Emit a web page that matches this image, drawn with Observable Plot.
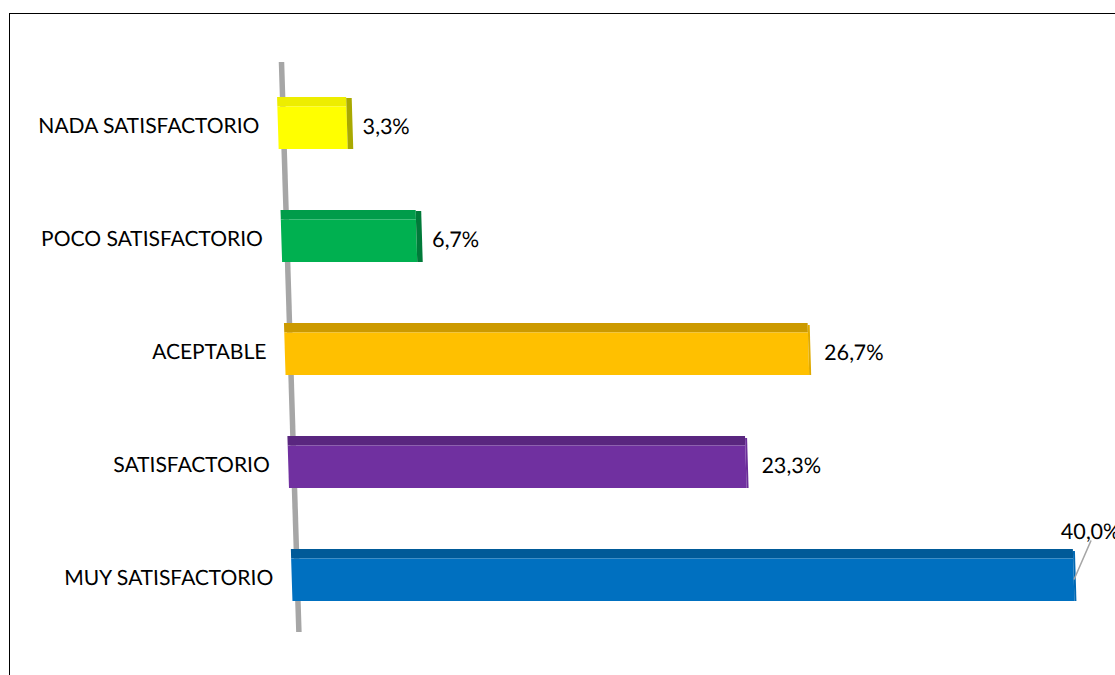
<!DOCTYPE html>
<html>
<head>
<meta charset="utf-8">
<script src="https://cdn.jsdelivr.net/npm/d3@7"></script>
<script src="https://cdn.jsdelivr.net/npm/@observablehq/plot@0.6"></script>
<style>
  html, body { margin: 0; padding: 0; background: #fff; }
  #wrap { position: relative; width: 1115px; height: 675px; overflow: hidden; background: #fff; }
  #frame { position: absolute; left: 9px; top: 13px; width: 1200px; height: 800px; border: 1.5px solid #000; box-sizing: border-box; }
  #chart { position: absolute; left: 0; top: 0; }
</style>
</head>
<body>
<div id="wrap"><div id="frame"></div><div id="chart"></div></div>
<script>
// ---- data ----
const categories = ["NADA SATISFACTORIO", "POCO SATISFACTORIO", "ACEPTABLE", "SATISFACTORIO", "MUY SATISFACTORIO"];
const values = [3.3, 6.7, 26.7, 23.3, 40.0];
// ---- palette (front / top / side faces) ----
const frontColors = ["#FFFF00", "#00B050", "#FFC000", "#7030A0", "#0070C0"];
const topColors   = ["#EDED00", "#009C4A", "#CC9A00", "#59267F", "#005A98"];
const sideColors  = ["#A9A900", "#007A39", "#E0AA00", "#6A2D98", "#0068B3"];

const data = categories.map((cat, i) => ({cat, value: values[i], i}));
const maxV = d3.max(values);
const fmt = d => d.value.toFixed(1).replace(".", ",") + "%";

const plot = Plot.plot({
  width: 1115,
  height: 675,
  marginLeft: 281,
  marginRight: 57,
  marginTop: 66,
  marginBottom: 42,
  style: {fontFamily: "Lato", color: "#000", background: "transparent"},
  x: {domain: [0, 40], axis: null},
  y: {domain: categories, padding: 0, label: null},
  color: {type: "identity"},
  marks: [
    Plot.ruleX([0], {stroke: "#A6A6A6", strokeWidth: 5.5, insetTop: -4, insetBottom: 1}),
    // top face
    Plot.barX(data, {x: "value", y: "cat", fill: d => topColors[d.i], insetTop: 30, insetBottom: 73.4, insetLeft: -5}),
    // front face
    Plot.barX(data, {x: "value", y: "cat", fill: d => frontColors[d.i], insetTop: 39.5, insetBottom: 31, insetLeft: -5}),
    // side faces (visible on the near, short bars)
    Plot.barX(data.filter(d => d.i < 2), {x1: "value", x2: "value", y: "cat", fill: d => sideColors[d.i], insetTop: 31, insetBottom: 31, insetRight: -5.5}),
    Plot.barX(data.filter(d => d.i >= 2), {x1: "value", x2: "value", y: "cat", fill: d => sideColors[d.i], insetTop: 32, insetBottom: 31, insetRight: -2}),
    Plot.axisY({tickSize: 0, tickPadding: 24, fontSize: 21, dy: 2, label: null}),
    Plot.text(data.filter(d => d.value !== maxV), {x: "value", y: "cat", text: fmt, textAnchor: "start", dx: 15, dy: 3, fontSize: 21.5, fill: "#000"}),
    Plot.vector(data.filter(d => d.value === maxV), {x: "value", y: "cat", length: 42, rotate: 25, anchor: "start", dy: 3, stroke: "#A6A6A6", strokeWidth: 1.5,
      shape: {draw(ctx, l) { ctx.moveTo(0, 0); ctx.lineTo(0, -l); }}}),
    Plot.text(data.filter(d => d.value === maxV), {x: "value", y: "cat", text: fmt, textAnchor: "start", dx: -12, dy: -44, fontSize: 21.5, fill: "#000"})
  ]
});

// slight perspective lean of the category axis (Excel 3D look)
const ns = "http://www.w3.org/2000/svg";
const g = document.createElementNS(ns, "g");
g.setAttribute("transform", "translate(0,62) skewX(1.747) translate(0,-62)");
Array.from(plot.childNodes).forEach(n => { if (n.nodeName.toLowerCase() !== "style") g.appendChild(n); });
plot.appendChild(g);
document.getElementById("chart").appendChild(plot);
</script>
</body>
</html>
